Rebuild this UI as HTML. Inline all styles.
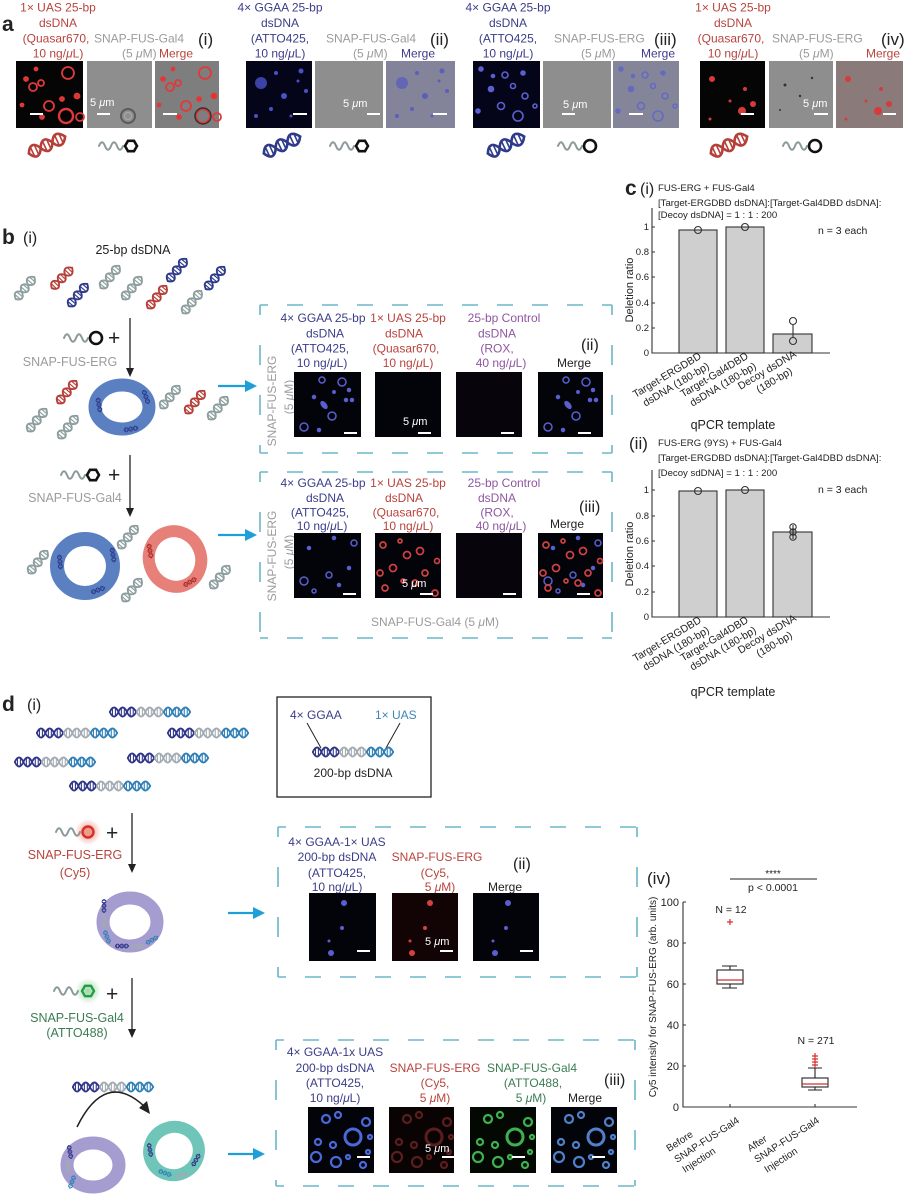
<!DOCTYPE html>
<html><head><meta charset="utf-8">
<style>
html,body{margin:0;padding:0;background:#fff;}
svg{display:block;font-family:"Liberation Sans",Arial,sans-serif;}
.r{fill:#b8433d}.n{fill:#3b3d8a}.g{fill:#9b9b9b}.p{fill:#8f56a0}.gr{fill:#3a7d52}.k{fill:#222}.w{fill:#fff}
.i{font-style:italic}
</style></head><body>
<svg width="912" height="1200" viewBox="0 0 912 1200" xmlns="http://www.w3.org/2000/svg">
<defs>
<g id="hx" fill="none" stroke="currentColor" stroke-linecap="round">
 <path stroke-width="2.6" d="M-20,0 C-16,-8 -11,-8 -7,0 S2,8 6,0 S15,-8 20,0"/>
 <path stroke-width="2.6" d="M-20,0 C-16,8 -11,8 -7,0 S2,-8 6,0 S15,8 20,0"/>
 <path stroke-width="1.6" d="M-16,-4.5V4.5M-11.5,-4.5V4.5M-2.5,-4.5V4.5M2,-4.5V4.5M11,-4.5V4.5M15.5,-4.5V4.5"/>
</g>
<g id="d200">
 <use href="#hx" transform="translate(13,0) scale(.66,.75)" color="#2e3487"/>
 <use href="#hx" transform="translate(40,0) scale(.66,.75)" color="#a3abb2"/>
 <use href="#hx" transform="translate(67,0) scale(.66,.75)" color="#2f7fb6"/>
</g>
<path id="sq" d="M0,0 c2,-5 4,-5 6,0 s4,5 6,0 s4,-5 6,0 s4,5 6,0"/>
<polygon id="hex" points="6,0 3,5.2 -3,5.2 -6,0 -3,-5.2 3,-5.2"/>
<radialGradient id="glr"><stop offset="0" stop-color="#f06050" stop-opacity=".75"/><stop offset="1" stop-color="#f06050" stop-opacity="0"/></radialGradient>
<radialGradient id="glg"><stop offset="0" stop-color="#50c060" stop-opacity=".6"/><stop offset="1" stop-color="#50c060" stop-opacity="0"/></radialGradient>

<g id="pA1" fill="none" stroke="#e0393a" stroke-width="1.8">
 <circle cx="10" cy="18" r="2" fill="#d33"/><circle cx="17" cy="26" r="4"/><circle cx="25" cy="22" r="3"/>
 <circle cx="52" cy="12" r="6"/><circle cx="6" cy="44" r="1.5" fill="#d33"/><circle cx="33" cy="45" r="5"/>
 <circle cx="46" cy="38" r="2" fill="#d33"/><circle cx="61" cy="35" r="2.5" fill="#d33"/><circle cx="50" cy="55" r="7" stroke-width="2.4"/>
 <circle cx="64" cy="56" r="4"/><circle cx="26" cy="56" r="2" fill="#d33"/><circle cx="20" cy="8" r="1.5" fill="#d33"/>
</g>
<g id="pA2" fill="#4a50c8">
 <circle cx="15" cy="22" r="6" opacity=".8"/><circle cx="30" cy="12" r="2"/><circle cx="55" cy="10" r="2.5"/>
 <circle cx="38" cy="35" r="3"/><circle cx="10" cy="55" r="2"/><circle cx="60" cy="30" r="2"/>
 <circle cx="45" cy="55" r="1.5"/><circle cx="25" cy="48" r="2"/><circle cx="52" cy="20" r="1.5"/>
</g>
<g id="pA3" fill="none" stroke="#5a60d0" stroke-width="1.6">
 <circle cx="8" cy="8" r="2" fill="#5a60d0"/><circle cx="32" cy="14" r="3"/><circle cx="50" cy="12" r="2" fill="#5a60d0"/>
 <circle cx="40" cy="25" r="2.5"/><circle cx="18" cy="28" r="2.5" fill="#5a60d0"/><circle cx="52" cy="35" r="3"/>
 <circle cx="28" cy="45" r="3.5"/><circle cx="45" cy="55" r="5"/><circle cx="5" cy="50" r="2" fill="#5a60d0"/>
 <circle cx="62" cy="45" r="2"/><circle cx="20" cy="15" r="1.5" fill="#5a60d0"/>
</g>
<g id="pA4" fill="#d83a3a">
 <circle cx="12" cy="18" r="3"/><circle cx="45" cy="28" r="2"/><circle cx="53" cy="43" r="3"/>
 <circle cx="42" cy="50" r="4"/><circle cx="10" cy="58" r="1.5"/><circle cx="30" cy="40" r="1.5"/>
</g>
<g id="pB1" fill="none" stroke="#5a5fd0" stroke-width="1.5">
 <circle cx="28" cy="8" r="3"/><circle cx="48" cy="10" r="4"/><circle cx="55" cy="18" r="1.5" fill="#5a5fd0"/>
 <circle cx="20" cy="25" r="1.5" fill="#5a5fd0"/><ellipse cx="30" cy="33" rx="2" ry="4" transform="rotate(-40 30 33)" fill="#5a5fd0"/>
 <circle cx="38" cy="44" r="4"/><circle cx="10" cy="55" r="4"/><circle cx="25" cy="58" r="1.5" fill="#5a5fd0"/>
 <circle cx="52" cy="28" r="1.5" fill="#5a5fd0"/><circle cx="58" cy="28" r="1.5" fill="#5a5fd0"/><circle cx="40" cy="20" r="1.2" fill="#5a5fd0"/>
</g>
<g id="pB2" fill="none" stroke="#5a5fd0" stroke-width="1.5">
 <circle cx="60" cy="10" r="3"/><circle cx="40" cy="5" r="1.5" fill="#5a5fd0"/><circle cx="15" cy="15" r="1.5" fill="#5a5fd0"/>
 <circle cx="35" cy="42" r="3"/><circle cx="10" cy="48" r="4"/><circle cx="45" cy="52" r="1.5" fill="#5a5fd0"/>
 <circle cx="20" cy="58" r="2"/><circle cx="55" cy="35" r="1.5" fill="#5a5fd0"/>
</g>
<g id="pB3" fill="none" stroke="#d04040" stroke-width="1.7">
 <circle cx="8" cy="12" r="3"/><circle cx="25" cy="8" r="2"/><circle cx="32" cy="22" r="3.5"/>
 <circle cx="45" cy="18" r="3.5"/><circle cx="18" cy="35" r="3.5"/><circle cx="5" cy="40" r="3"/>
 <circle cx="50" cy="40" r="3"/><circle cx="40" cy="50" r="3"/><circle cx="10" cy="55" r="3"/>
 <circle cx="60" cy="60" r="3"/><circle cx="28" cy="48" r="2"/><circle cx="62" cy="28" r="2.5"/>
</g>
<g id="pD1" fill="#5a5fd0">
 <circle cx="35" cy="10" r="3"/><circle cx="33" cy="35" r="2"/><circle cx="20" cy="48" r="1.5"/><circle cx="22" cy="60" r="3"/>
</g>
<g id="pD2" fill="#d84040">
 <circle cx="38" cy="10" r="3"/><circle cx="33" cy="35" r="2"/><circle cx="18" cy="48" r="1.5"/><circle cx="20" cy="60" r="3"/>
</g>
<g id="pE" fill="none" stroke-width="2.2">
 <circle cx="18" cy="12" r="4"/><circle cx="30" cy="8" r="3"/><circle cx="45" cy="30" r="8" stroke-width="3"/>
 <circle cx="58" cy="15" r="4"/><circle cx="10" cy="35" r="3"/><circle cx="25" cy="38" r="3"/>
 <circle cx="8" cy="50" r="5"/><circle cx="28" cy="55" r="5"/><circle cx="40" cy="50" r="2"/>
 <circle cx="60" cy="45" r="2"/><circle cx="55" cy="58" r="3"/><circle cx="62" cy="30" r="2"/>
</g>
</defs>

<!-- ================= PANEL A ================= -->
<text x="2" y="31" font-size="21" font-weight="bold" class="k">a</text>
<g font-size="12">
 <text class="r" text-anchor="middle"><tspan x="58" y="11.5">1× UAS 25-bp</tspan><tspan x="58" y="27">dsDNA</tspan><tspan x="56" y="42.5">(Quasar670,</tspan><tspan x="58" y="57.5">10 ng/<tspan class="i">μ</tspan>L)</tspan></text>
 <text class="g" x="94" y="42.5">SNAP-FUS-Gal4</text>
 <text class="g" x="122" y="57.5">(5 <tspan class="i">μ</tspan>M)</text>
 <text class="r" x="159" y="57.5">Merge</text>

 <text class="n" text-anchor="middle"><tspan x="280" y="11.5">4× GGAA 25-bp</tspan><tspan x="280" y="27">dsDNA</tspan><tspan x="280" y="42.5">(ATTO425,</tspan><tspan x="280" y="57.5">10 ng/<tspan class="i">μ</tspan>L)</tspan></text>
 <text class="g" x="326" y="42.5">SNAP-FUS-Gal4</text>
 <text class="g" x="353" y="57.5">(5 <tspan class="i">μ</tspan>M)</text>
 <text class="n" x="401" y="57.5">Merge</text>

 <text class="n" text-anchor="middle"><tspan x="508" y="11.5">4× GGAA 25-bp</tspan><tspan x="508" y="27">dsDNA</tspan><tspan x="508" y="42.5">(ATTO425,</tspan><tspan x="508" y="57.5">10 ng/<tspan class="i">μ</tspan>L)</tspan></text>
 <text class="g" x="554" y="42.5">SNAP-FUS-ERG</text>
 <text class="g" x="581" y="57.5">(5 <tspan class="i">μ</tspan>M)</text>
 <text class="n" x="641" y="57.5">Merge</text>

 <text class="r" text-anchor="middle"><tspan x="733" y="11.5">1× UAS 25-bp</tspan><tspan x="733" y="27">dsDNA</tspan><tspan x="731" y="42.5">(Quasar670,</tspan><tspan x="733" y="57.5">10 ng/<tspan class="i">μ</tspan>L)</tspan></text>
 <text class="g" x="772" y="42.5">SNAP-FUS-ERG</text>
 <text class="g" x="799" y="57.5">(5 <tspan class="i">μ</tspan>M)</text>
 <text class="r" x="866" y="57.5">Merge</text>
</g>
<g font-size="17" class="k">
 <text x="198" y="45">(i)</text><text x="430" y="45">(ii)</text><text x="654" y="45">(iii)</text><text x="881" y="45">(iv)</text>
</g>

<rect x="16" y="61" width="67" height="67" fill="#050505"/>
<use href="#pA1" transform="translate(16,61)"/>
<rect x="87" y="61" width="65" height="67" fill="#8e8e8e"/>
<circle cx="128" cy="116" r="7" fill="none" stroke="#5a5a5a" stroke-width="2"/><circle cx="128" cy="116" r="3.5" fill="none" stroke="#aaa" stroke-width="1"/>
<rect x="155" y="61" width="64" height="67" fill="#7e7e7e"/>
<use href="#pA1" transform="translate(153,61)"/>
<circle cx="203" cy="116" r="8" fill="none" stroke="#333" stroke-width="1.5"/>

<rect x="246" y="61" width="66" height="67" fill="#05051a"/>
<use href="#pA2" transform="translate(246,61)"/>
<rect x="315" y="61" width="68" height="67" fill="#8e8e8e"/>
<rect x="386" y="61" width="69" height="67" fill="#83839a"/>
<use href="#pA2" transform="translate(387,61)" opacity=".7"/>

<rect x="473" y="61" width="67" height="67" fill="#05051a"/>
<use href="#pA3" transform="translate(473,61)"/>
<rect x="543" y="61" width="68" height="67" fill="#8e8e8e"/>
<rect x="613" y="61" width="66" height="67" fill="#85859a"/>
<use href="#pA3" transform="translate(613,61)" opacity=".75"/>

<rect x="700" y="61" width="65" height="67" fill="#050505"/>
<use href="#pA4" transform="translate(700,61)"/>
<rect x="769" y="61" width="64" height="67" fill="#8e8e8e"/>
<g fill="#333"><circle cx="785" cy="85" r="1.5"/><circle cx="800" cy="96" r="1.2"/><circle cx="812" cy="78" r="1.2"/><circle cx="780" cy="110" r="1"/></g>
<rect x="836" y="61" width="67" height="67" fill="#8a7a7a"/>
<use href="#pA4" transform="translate(836,61)"/>

<g fill="#fff">
 <rect x="30" y="113" width="13" height="2"/><rect x="97" y="113" width="13" height="2"/><rect x="163" y="113" width="14" height="2"/>
 <rect x="293" y="113" width="14" height="2"/><rect x="367" y="113" width="13" height="2"/><rect x="433" y="113" width="14" height="2"/>
 <rect x="562" y="113" width="13" height="2"/><rect x="629" y="113" width="14" height="2"/>
 <rect x="741" y="113" width="13" height="2"/><rect x="814" y="113" width="14" height="2"/><rect x="883" y="113" width="13" height="2"/>
</g>
<g font-size="11" class="w">
 <text x="90" y="106">5 <tspan class="i">μ</tspan>m</text>
 <text x="343" y="107">5 <tspan class="i">μ</tspan>m</text>
 <text x="563" y="108">5 <tspan class="i">μ</tspan>m</text>
 <text x="803" y="107">5 <tspan class="i">μ</tspan>m</text>
</g>

<use href="#hx" transform="translate(47,145) rotate(-25)" color="#b5403a"/>
<use href="#hx" transform="translate(282,145) rotate(-25)" color="#2e3a8a"/>
<use href="#hx" transform="translate(506,145) rotate(-25)" color="#2e3a8a"/>
<use href="#hx" transform="translate(729,145) rotate(-25)" color="#b5403a"/>
<g fill="none" stroke="#8a9a9a" stroke-width="2" stroke-linecap="round">
 <use href="#sq" transform="translate(99,146)"/><use href="#sq" transform="translate(330,146)"/>
 <use href="#sq" transform="translate(558,146)"/><use href="#sq" transform="translate(783,146)"/>
</g>
<g fill="none" stroke="#111" stroke-width="2.6">
 <use href="#hex" transform="translate(131,146)"/><use href="#hex" transform="translate(362,146)"/>
 <circle cx="590" cy="146" r="6"/><circle cx="815" cy="146" r="6"/>
</g>

<!-- ================= PANEL B ================= -->
<text x="2" y="244" font-size="21" font-weight="bold" class="k">b</text>
<text x="23" y="243" font-size="16" class="k">(i)</text>
<text x="133" y="254" font-size="12.5" text-anchor="middle" class="k">25-bp dsDNA</text>
<g>
 <use href="#hx" transform="translate(25,288) rotate(-50) scale(.72)" color="#8d9e9e"/>
 <use href="#hx" transform="translate(62,278) rotate(-45) scale(.72)" color="#b5403a"/>
 <use href="#hx" transform="translate(78,295) rotate(-50) scale(.72)" color="#2e3a8a"/>
 <use href="#hx" transform="translate(110,277) rotate(-50) scale(.72)" color="#8d9e9e"/>
 <use href="#hx" transform="translate(132,288) rotate(-50) scale(.72)" color="#8d9e9e"/>
 <use href="#hx" transform="translate(157,297) rotate(-50) scale(.72)" color="#b5403a"/>
 <use href="#hx" transform="translate(177,270) rotate(-50) scale(.72)" color="#2e3a8a"/>
 <use href="#hx" transform="translate(192,302) rotate(-50) scale(.72)" color="#8d9e9e"/>
 <use href="#hx" transform="translate(215,278) rotate(-50) scale(.72)" color="#2e3a8a"/>

 <use href="#hx" transform="translate(67,392) rotate(-50) scale(.72)" color="#b5403a"/>
 <use href="#hx" transform="translate(37,420) rotate(-50) scale(.72)" color="#8d9e9e"/>
 <use href="#hx" transform="translate(68,427) rotate(-50) scale(.72)" color="#8d9e9e"/>
 <use href="#hx" transform="translate(170,397) rotate(-50) scale(.72)" color="#8d9e9e"/>
 <use href="#hx" transform="translate(195,402) rotate(-50) scale(.72)" color="#b5403a"/>
 <use href="#hx" transform="translate(218,408) rotate(-50) scale(.72)" color="#8d9e9e"/>

 <use href="#hx" transform="translate(38,562) rotate(-50) scale(.72)" color="#8d9e9e"/>
 <use href="#hx" transform="translate(128,537) rotate(-50) scale(.72)" color="#8d9e9e"/>
 <use href="#hx" transform="translate(132,590) rotate(-50) scale(.72)" color="#8d9e9e"/>
 <use href="#hx" transform="translate(220,577) rotate(-50) scale(.72)" color="#8d9e9e"/>
</g>
<g stroke="#222" stroke-width="1.3"><line x1="130" y1="318" x2="130" y2="370"/><line x1="130" y1="455" x2="130" y2="510"/></g>
<g fill="#222"><polygon points="126,368 134,368 130,377"/><polygon points="126,508 134,508 130,517"/></g>
<g fill="none" stroke="#8a9a9a" stroke-width="2" stroke-linecap="round">
 <use href="#sq" transform="translate(64,338)"/><use href="#sq" transform="translate(61,475)"/>
</g>
<circle cx="96" cy="338" r="6" fill="none" stroke="#111" stroke-width="2.6"/>
<use href="#hex" transform="translate(93,475)" fill="none" stroke="#111" stroke-width="2.6"/>
<g font-size="21" class="k"><text x="108" y="345">+</text><text x="108" y="482">+</text></g>
<g font-size="12.5" class="g" text-anchor="middle"><text x="70" y="366">SNAP-FUS-ERG</text><text x="75" y="502">SNAP-FUS-Gal4</text></g>
<ellipse cx="122" cy="407" rx="27" ry="22" fill="none" stroke="#5b80c2" stroke-width="13"/>
<use href="#hx" transform="translate(99,405) rotate(80) scale(.35)" color="#2e3a8a"/>
<use href="#hx" transform="translate(146,397) rotate(70) scale(.35)" color="#2e3a8a"/>
<use href="#hx" transform="translate(131,429) rotate(-10) scale(.35)" color="#2e3a8a"/>
<ellipse cx="85" cy="566" rx="28" ry="27" fill="none" stroke="#5b80c2" stroke-width="14"/>
<use href="#hx" transform="translate(60,562) rotate(85) scale(.35)" color="#2e3a8a"/>
<use href="#hx" transform="translate(113,555) rotate(80) scale(.35)" color="#2e3a8a"/>
<use href="#hx" transform="translate(98,590) rotate(-20) scale(.35)" color="#2e3a8a"/>
<ellipse cx="175" cy="559" rx="26" ry="28" transform="rotate(-20 175 559)" fill="none" stroke="#e8807a" stroke-width="12"/>
<use href="#hx" transform="translate(150,551) rotate(80) scale(.35)" color="#a82a2a"/>
<use href="#hx" transform="translate(190,582) rotate(-30) scale(.35)" color="#a82a2a"/>
<g stroke="#1e9fd8" stroke-width="2.2"><line x1="218" y1="386" x2="248" y2="386"/><line x1="218" y1="535" x2="248" y2="535"/><line x1="228" y1="913" x2="256" y2="913"/><line x1="228" y1="1154" x2="256" y2="1154"/></g>
<g fill="#1e9fd8"><polygon points="245,380 257,386 245,392"/><polygon points="245,529 257,535 245,541"/><polygon points="253,907 265,913 253,919"/><polygon points="253,1148 265,1154 253,1160"/></g>

<g stroke="#6ab6c9" stroke-width="1.6" fill="none">
 <line x1="260" y1="305" x2="612" y2="305" stroke-dasharray="16 19" stroke-dashoffset="8"/>
 <line x1="260" y1="453" x2="612" y2="453" stroke-dasharray="16 19" stroke-dashoffset="8"/>
 <line x1="260" y1="305" x2="260" y2="453" stroke-dasharray="20 30" stroke-dashoffset="10"/>
 <line x1="612" y1="305" x2="612" y2="453" stroke-dasharray="20 30" stroke-dashoffset="10"/>
 <line x1="260" y1="472" x2="612" y2="472" stroke-dasharray="16 19" stroke-dashoffset="8"/>
 <line x1="260" y1="638" x2="612" y2="638" stroke-dasharray="16 19" stroke-dashoffset="8"/>
 <line x1="260" y1="472" x2="260" y2="638" stroke-dasharray="20 30" stroke-dashoffset="10"/>
 <line x1="612" y1="472" x2="612" y2="638" stroke-dasharray="20 30" stroke-dashoffset="10"/>
 <line x1="278" y1="827" x2="637" y2="827" stroke-dasharray="16 19" stroke-dashoffset="8"/>
 <line x1="278" y1="977" x2="637" y2="977" stroke-dasharray="16 19" stroke-dashoffset="8"/>
 <line x1="278" y1="827" x2="278" y2="977" stroke-dasharray="20 30" stroke-dashoffset="10"/>
 <line x1="637" y1="827" x2="637" y2="977" stroke-dasharray="20 30" stroke-dashoffset="10"/>
 <line x1="276" y1="1040" x2="635" y2="1040" stroke-dasharray="16 19" stroke-dashoffset="8"/>
 <line x1="276" y1="1186" x2="635" y2="1186" stroke-dasharray="16 19" stroke-dashoffset="8"/>
 <line x1="276" y1="1040" x2="276" y2="1186" stroke-dasharray="20 30" stroke-dashoffset="10"/>
 <line x1="635" y1="1040" x2="635" y2="1186" stroke-dasharray="20 30" stroke-dashoffset="10"/>
</g>

<g font-size="12" text-anchor="middle">
 <text class="n"><tspan x="323" y="322">4× GGAA 25-bp</tspan><tspan x="325" y="337.5">dsDNA</tspan><tspan x="320" y="352.5">(ATTO425,</tspan><tspan x="322" y="367">10 ng/<tspan class="i">μ</tspan>L)</tspan></text>
 <text class="r"><tspan x="408" y="322">1× UAS 25-bp</tspan><tspan x="404" y="337.5">dsDNA</tspan><tspan x="406" y="352.5">(Quasar670,</tspan><tspan x="408" y="367">10 ng/<tspan class="i">μ</tspan>L)</tspan></text>
 <text class="p"><tspan x="504" y="322">25-bp Control</tspan><tspan x="497" y="337.5">dsDNA</tspan><tspan x="497" y="352.5">(ROX,</tspan><tspan x="501" y="367">40 ng/<tspan class="i">μ</tspan>L)</tspan></text>
 <text class="n"><tspan x="323" y="487">4× GGAA 25-bp</tspan><tspan x="325" y="502">dsDNA</tspan><tspan x="320" y="516.5">(ATTO425,</tspan><tspan x="322" y="530">10 ng/<tspan class="i">μ</tspan>L)</tspan></text>
 <text class="r"><tspan x="408" y="487">1× UAS 25-bp</tspan><tspan x="404" y="502">dsDNA</tspan><tspan x="406" y="516.5">(Quasar670,</tspan><tspan x="408" y="530">10 ng/<tspan class="i">μ</tspan>L)</tspan></text>
 <text class="p"><tspan x="504" y="487">25-bp Control</tspan><tspan x="497" y="502">dsDNA</tspan><tspan x="497" y="516.5">(ROX,</tspan><tspan x="501" y="530">40 ng/<tspan class="i">μ</tspan>L)</tspan></text>
</g>
<g font-size="12" class="k"><text x="557" y="367">Merge</text><text x="550" y="528">Merge</text></g>
<g font-size="16" class="k"><text x="581" y="350">(ii)</text><text x="579" y="512">(iii)</text></g>
<g font-size="12" class="g" text-anchor="middle">
 <text transform="translate(276,401) rotate(-90)">SNAP-FUS-ERG</text>
 <text transform="translate(293,397) rotate(-90)">(5 <tspan class="i">μ</tspan>M)</text>
 <text transform="translate(276,556) rotate(-90)">SNAP-FUS-ERG</text>
 <text transform="translate(293,552) rotate(-90)">(5 <tspan class="i">μ</tspan>M)</text>
 <text x="435" y="626">SNAP-FUS-Gal4 (5 <tspan class="i">μ</tspan>M)</text>
</g>
<g fill="#03030a">
 <rect x="294" y="372" width="67" height="65"/><rect x="375" y="372" width="66" height="65"/><rect x="456" y="372" width="66" height="65" fill="#07040b"/><rect x="538" y="372" width="65" height="65"/>
 <rect x="294" y="533" width="67" height="65"/><rect x="375" y="533" width="66" height="65"/><rect x="456" y="533" width="66" height="65" fill="#07040b"/><rect x="538" y="533" width="65" height="65"/>
</g>
<use href="#pB1" transform="translate(294,372)"/><use href="#pB1" transform="translate(538,372)"/>
<use href="#pB2" transform="translate(294,533)"/><use href="#pB3" transform="translate(375,533)"/>
<use href="#pB2" transform="translate(538,533)"/><use href="#pB3" transform="translate(538,533)"/>
<g fill="#fff">
 <rect x="344" y="432" width="13" height="2"/><rect x="418" y="432" width="13" height="2"/><rect x="501" y="432" width="13" height="2"/><rect x="578" y="432" width="13" height="2"/>
 <rect x="343" y="593" width="13" height="2"/><rect x="420" y="593" width="13" height="2"/><rect x="503" y="593" width="13" height="2"/><rect x="577" y="593" width="13" height="2"/>
</g>
<g font-size="11" class="w"><text x="403" y="425">5 <tspan class="i">μ</tspan>m</text><text x="402" y="587">5 <tspan class="i">μ</tspan>m</text></g>

<!-- ================= PANEL C ================= -->
<text x="625" y="195" font-size="21" font-weight="bold" class="k">c</text>
<text x="640" y="194" font-size="16" class="k">(i)</text>
<g font-size="9.6" class="k">
 <text x="658" y="191">FUS-ERG + FUS-Gal4</text>
 <text x="658" y="206">[Target-ERGDBD dsDNA]:[Target-Gal4DBD dsDNA]:</text>
 <text x="658" y="218">[Decoy dsDNA] = 1 : 1 : 200</text>
</g>
<text x="818" y="234" font-size="10.5" class="k">n = 3 each</text>
<g stroke="#333" stroke-width="1.1" fill="none">
 <path d="M652,208 V353 H830"/>
 <path d="M652,328h3M652,303h3M652,277h3M652,252h3M652,227h3M698,353v-3M745,353v-3M793,353v-3"/>
</g>
<g fill="#cfcfcf" stroke="#333" stroke-width="1.1">
 <rect x="679" y="230" width="38" height="123"/><rect x="726" y="227" width="38" height="126"/><rect x="773" y="334" width="39" height="19"/>
</g>
<g fill="none" stroke="#333" stroke-width="1.1">
 <line x1="793" y1="325" x2="793" y2="338"/>
 <circle cx="698" cy="230" r="3.5"/><circle cx="745" cy="227" r="3.5"/><circle cx="793" cy="321" r="3.5"/><circle cx="793" cy="341" r="3.5"/>
</g>
<g font-size="9.5" class="k" text-anchor="end">
 <text x="649" y="356">0</text><text x="649" y="331">0.2</text><text x="649" y="306">0.4</text><text x="649" y="280">0.6</text><text x="649" y="255">0.8</text><text x="649" y="230">1</text>
</g>
<text transform="translate(633,290) rotate(-90)" font-size="11" text-anchor="middle" class="k">Deletion ratio</text>
<g font-size="10.5" class="k" text-anchor="end">
 <text transform="translate(702,358) rotate(-31)">Target-ERGDBD</text>
 <text transform="translate(710,368) rotate(-31)">dsDNA (180-bp)</text>
 <text transform="translate(749,358) rotate(-31)">Target-Gal4DBD</text>
 <text transform="translate(757,368) rotate(-31)">dsDNA (180-bp)</text>
 <text transform="translate(797,356) rotate(-31)">Decoy dsDNA</text>
 <text transform="translate(793,373) rotate(-31)">(180-bp)</text>
</g>
<text x="733" y="429" font-size="12.5" text-anchor="middle" class="k">qPCR template</text>

<text x="629" y="449" font-size="17" class="k">(ii)</text>
<g font-size="9.6" class="k">
 <text x="658" y="446">FUS-ERG (9YS) + FUS-Gal4</text>
 <text x="658" y="461">[Target-ERGDBD dsDNA]:[Target-Gal4DBD dsDNA]:</text>
 <text x="658" y="476">[Decoy sdDNA] = 1 : 1 : 200</text>
</g>
<text x="818" y="493" font-size="10.5" class="k">n = 3 each</text>
<g stroke="#333" stroke-width="1.1" fill="none">
 <path d="M652,470 V617 H830"/>
 <path d="M652,592h3M652,566h3M652,541h3M652,516h3M652,490h3M698,617v-3M745,617v-3M793,617v-3"/>
</g>
<g fill="#cfcfcf" stroke="#333" stroke-width="1.1">
 <rect x="679" y="491" width="38" height="126"/><rect x="726" y="490" width="38" height="127"/><rect x="773" y="532" width="39" height="85"/>
</g>
<g fill="none" stroke="#333" stroke-width="1.1">
 <line x1="793" y1="525" x2="793" y2="539"/>
 <circle cx="698" cy="491" r="3.5"/><circle cx="745" cy="490" r="3.5"/><circle cx="793" cy="527" r="3.2"/><circle cx="793" cy="532" r="3.2"/><circle cx="793" cy="537" r="3.2"/>
</g>
<g font-size="9.5" class="k" text-anchor="end">
 <text x="649" y="620">0</text><text x="649" y="595">0.2</text><text x="649" y="569">0.4</text><text x="649" y="544">0.6</text><text x="649" y="519">0.8</text><text x="649" y="493">1</text>
</g>
<text transform="translate(633,554) rotate(-90)" font-size="11" text-anchor="middle" class="k">Deletion ratio</text>
<g font-size="10.5" class="k" text-anchor="end">
 <text transform="translate(702,622) rotate(-31)">Target-ERGDBD</text>
 <text transform="translate(710,632) rotate(-31)">dsDNA (180-bp)</text>
 <text transform="translate(749,622) rotate(-31)">Target-Gal4DBD</text>
 <text transform="translate(757,632) rotate(-31)">dsDNA (180-bp)</text>
 <text transform="translate(797,620) rotate(-31)">Decoy dsDNA</text>
 <text transform="translate(793,637) rotate(-31)">(180-bp)</text>
</g>
<text x="733" y="696" font-size="12.5" text-anchor="middle" class="k">qPCR template</text>

<!-- ================= PANEL D ================= -->
<text x="2" y="711" font-size="21" font-weight="bold" class="k">d</text>
<text x="27" y="710" font-size="16" class="k">(i)</text>
<use href="#d200" transform="translate(110,712)"/>
<use href="#d200" transform="translate(37,733)"/>
<use href="#d200" transform="translate(168,733)"/>
<use href="#d200" transform="translate(15,762)"/>
<use href="#d200" transform="translate(128,758)"/>
<use href="#d200" transform="translate(70,786)"/>
<rect x="277" y="697" width="154" height="100" fill="none" stroke="#222" stroke-width="1.3"/>
<text x="290" y="719" font-size="12" class="n">4× GGAA</text>
<text x="375" y="719" font-size="12" fill="#3f84b5">1× UAS</text>
<g stroke="#222" stroke-width="1"><line x1="307" y1="723" x2="321" y2="748"/><line x1="400" y1="723" x2="386" y2="748"/></g>
<use href="#d200" transform="translate(313,752)"/>
<text x="353" y="777" font-size="12" text-anchor="middle" class="k">200-bp dsDNA</text>

<g stroke="#222" stroke-width="1.3"><line x1="132" y1="813" x2="132" y2="866"/><line x1="132" y1="978" x2="132" y2="1031"/></g>
<g fill="#222"><polygon points="128,864 136,864 132,873"/><polygon points="128,1029 136,1029 132,1038"/></g>
<g fill="none" stroke="#8a9a9a" stroke-width="2" stroke-linecap="round">
 <use href="#sq" transform="translate(56,832)"/><use href="#sq" transform="translate(54,991)"/>
</g>
<circle cx="88" cy="832" r="13" fill="url(#glr)"/>
<circle cx="88" cy="832" r="5.5" fill="#f29a8c" stroke="#d0332a" stroke-width="2.4"/>
<circle cx="88" cy="991" r="13" fill="url(#glg)"/>
<use href="#hex" transform="translate(88,991)" fill="none" stroke="#2a9a48" stroke-width="2.4"/>
<g font-size="21" class="k"><text x="106" y="840">+</text><text x="106" y="1001">+</text></g>
<g font-size="12.5" text-anchor="middle">
 <text class="r" x="75" y="859">SNAP-FUS-ERG</text><text class="r" x="75" y="877">(Cy5)</text>
 <text class="gr" x="77" y="1022">SNAP-FUS-Gal4</text><text class="gr" x="77" y="1037">(ATTO488)</text>
</g>
<ellipse cx="130" cy="922" rx="27" ry="24" fill="none" stroke="#a59ccf" stroke-width="13"/>
<use href="#hx" transform="translate(104,906) rotate(90) scale(.33)" color="#2e3487"/>
<use href="#hx" transform="translate(104,922) rotate(90) scale(.33)" color="#a3abb2"/>
<use href="#hx" transform="translate(107,937) rotate(70) scale(.33)" color="#2f7fb6"/>
<use href="#hx" transform="translate(122,946) rotate(0) scale(.33)" color="#2e3487"/>
<use href="#hx" transform="translate(138,946) rotate(0) scale(.33)" color="#a3abb2"/>
<use href="#hx" transform="translate(152,940) rotate(-30) scale(.33)" color="#2f7fb6"/>

<use href="#d200" transform="translate(73,1087)"/>
<path d="M77,1127 Q105,1070 144,1106" fill="none" stroke="#222" stroke-width="1.5"/>
<polygon points="150,1114 139,1108 147,1101" fill="#222"/>
<ellipse cx="93" cy="1165" rx="26" ry="22" fill="none" stroke="#a59ccf" stroke-width="13"/>
<use href="#hx" transform="translate(70,1152) rotate(80) scale(.33)" color="#2e3487"/>
<use href="#hx" transform="translate(68,1167) rotate(90) scale(.33)" color="#a3abb2"/>
<use href="#hx" transform="translate(72,1182) rotate(110) scale(.33)" color="#2f7fb6"/>
<ellipse cx="174" cy="1151" rx="25" ry="24" transform="rotate(-25 174 1151)" fill="none" stroke="#6fc5b7" stroke-width="12"/>
<use href="#hx" transform="translate(150,1150) rotate(80) scale(.33)" color="#2e3487"/>
<use href="#hx" transform="translate(165,1173) rotate(20) scale(.33)" color="#2f7fb6"/>
<use href="#hx" transform="translate(182,1175) rotate(-10) scale(.33)" color="#a3abb2"/>
<use href="#hx" transform="translate(196,1160) rotate(-60) scale(.33)" color="#2e3487"/>

<g font-size="12" text-anchor="middle">
 <text class="n"><tspan x="337" y="846">4× GGAA-1× UAS</tspan><tspan x="337" y="861">200-bp dsDNA</tspan><tspan x="337" y="877">(ATTO425,</tspan><tspan x="337" y="891">10 ng/<tspan class="i">μ</tspan>L)</tspan></text>
 <text class="r"><tspan x="437" y="861">SNAP-FUS-ERG</tspan><tspan x="435" y="877">(Cy5,</tspan><tspan x="440" y="891">5 <tspan class="i">μ</tspan>M)</tspan></text>
</g>
<text x="488" y="891" font-size="12" class="k">Merge</text>
<text x="513" y="869" font-size="16" class="k">(ii)</text>
<rect x="309" y="893" width="67" height="68" fill="#03030a"/>
<rect x="392" y="893" width="66" height="68" fill="#120404"/>
<rect x="473" y="893" width="66" height="68" fill="#03030a"/>
<use href="#pD1" transform="translate(309,893)"/><use href="#pD2" transform="translate(392,893)"/><use href="#pD1" transform="translate(473,893)"/>
<g fill="#fff"><rect x="357" y="950" width="13" height="2"/><rect x="440" y="950" width="13" height="2"/><rect x="520" y="950" width="13" height="2"/></g>
<text x="425" y="945" font-size="11" class="w">5 <tspan class="i">μ</tspan>m</text>

<g font-size="12" text-anchor="middle">
 <text class="n"><tspan x="335" y="1056">4× GGAA-1x UAS</tspan><tspan x="335" y="1072">200-bp dsDNA</tspan><tspan x="335" y="1087">(ATTO425,</tspan><tspan x="335" y="1102">10 ng/<tspan class="i">μ</tspan>L)</tspan></text>
 <text class="r"><tspan x="435" y="1072">SNAP-FUS-ERG</tspan><tspan x="435" y="1087">(Cy5,</tspan><tspan x="435" y="1102">5 <tspan class="i">μ</tspan>M)</tspan></text>
 <text class="gr"><tspan x="532" y="1072">SNAP-FUS-Gal4</tspan><tspan x="533" y="1087">(ATTO488,</tspan><tspan x="531" y="1102">5 <tspan class="i">μ</tspan>M)</tspan></text>
</g>
<text x="568" y="1102" font-size="12" class="k">Merge</text>
<text x="604" y="1085" font-size="16" class="k">(iii)</text>
<rect x="308" y="1107" width="66" height="66" fill="#03030a"/>
<rect x="389" y="1107" width="65" height="66" fill="#0a0303"/>
<rect x="470" y="1107" width="66" height="66" fill="#030803"/>
<rect x="551" y="1107" width="66" height="66" fill="#03030a"/>
<use href="#pE" transform="translate(308,1107)" stroke="#4a68d8"/>
<use href="#pE" transform="translate(389,1107)" stroke="#5a1e1e"/>
<use href="#pE" transform="translate(470,1107)" stroke="#3fb050"/>
<use href="#pE" transform="translate(551,1107)" stroke="#5080c8"/>
<g fill="#fff"><rect x="357" y="1156" width="13" height="2"/><rect x="442" y="1156" width="13" height="2"/><rect x="512" y="1156" width="13" height="2"/><rect x="592" y="1156" width="13" height="2"/></g>
<text x="425" y="1152" font-size="11" class="w">5 <tspan class="i">μ</tspan>m</text>

<text x="647" y="884" font-size="17" class="k">(iv)</text>
<text x="773" y="877" font-size="10" text-anchor="middle" class="k">****</text>
<line x1="730" y1="879" x2="817" y2="879" stroke="#222" stroke-width="1"/>
<text x="773" y="891" font-size="10.5" text-anchor="middle" class="k">p &lt; 0.0001</text>
<g stroke="#333" stroke-width="1.1" fill="none">
 <path d="M683,902 V1107 H857"/>
 <path d="M683,1066h3M683,1025h3M683,984h3M683,943h3M683,902h3M730,1107v-3M815,1107v-3"/>
</g>
<g font-size="11" class="k" text-anchor="end">
 <text x="679" y="1111">0</text><text x="679" y="1070">20</text><text x="679" y="1029">40</text><text x="679" y="988">60</text><text x="679" y="947">80</text><text x="679" y="906">100</text>
</g>
<text transform="translate(656,997) rotate(-90)" font-size="10" text-anchor="middle" class="k">Cy5 intensity for SNAP-FUS-ERG (arb. units)</text>
<g stroke="#222" stroke-width="1.1" fill="none">
 <rect x="717" y="970" width="26" height="14"/>
 <path d="M730,970V966M722,966h15M730,984V988M722,988h15"/>
 <rect x="802" y="1078" width="26" height="9"/>
 <path d="M815,1078V1068M808,1068h14M815,1087V1090M808,1090h14"/>
</g>
<g stroke="#d03030" stroke-width="1.2">
 <line x1="717" y1="980" x2="743" y2="980"/><line x1="802" y1="1084" x2="828" y2="1084"/>
 <path d="M727,922h6M730,919v6"/>
 <path d="M812,1056h6M815,1053v6M812,1059h6M815,1056v6M812,1062h6M815,1059v6M812,1065h6M815,1062v6"/>
</g>
<g font-size="10.5" class="k" text-anchor="middle"><text x="731" y="913">N = 12</text><text x="816" y="1044">N = 271</text></g>
<g font-size="10" class="k">
 <text transform="translate(669,1152) rotate(-33)">Before</text>
 <text transform="translate(677,1163) rotate(-33)">SNAP-FUS-Gal4</text>
 <text transform="translate(685,1173) rotate(-33)">Injection</text>
 <text transform="translate(750,1152) rotate(-33)">After</text>
 <text transform="translate(757,1163) rotate(-33)">SNAP-FUS-Gal4</text>
 <text transform="translate(767,1173) rotate(-33)">Injection</text>
</g>
</svg>
</body></html>
